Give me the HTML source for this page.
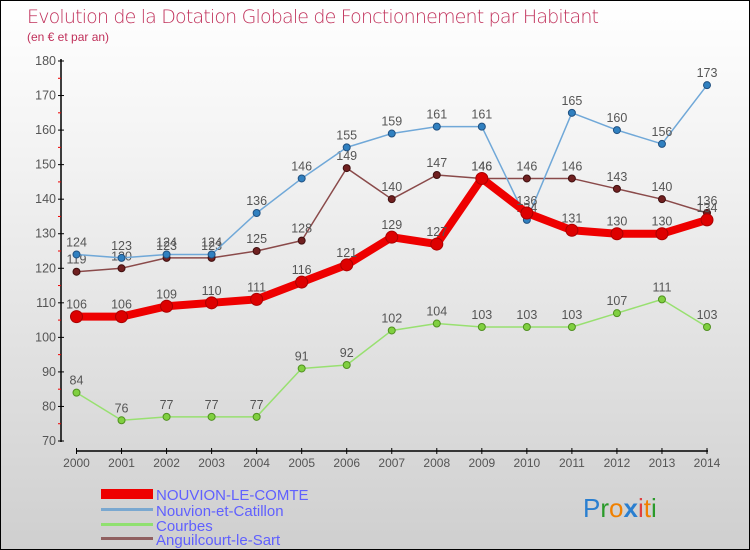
<!DOCTYPE html>
<html><head><meta charset="utf-8"><style>
body{margin:0}
#c{width:750px;height:550px;position:relative;box-sizing:border-box;border:1px solid #000;background:linear-gradient(#fff,#f2f2f2 30%,#cfcfcf);font-family:"Liberation Sans","DejaVu Sans",sans-serif;overflow:hidden}
</style></head><body>
<div id="c">
<svg id="s" width="750" height="550" style="position:absolute;left:0;top:0">
<text x="26" y="22" font-size="19" fill="#c0305a" font-family="DejaVu Sans" style="font-weight:200" textLength="572">Evolution de la Dotation Globale de Fonctionnement par Habitant</text>
<text x="26" y="40" font-size="12" fill="#c0305a">(en € et par an)</text>
<g id="axes"></g><g id="series"></g>
<g>
<rect x="100" y="488" width="52" height="10" fill="#e00"/>
<text x="155" y="499" font-size="15" fill="#6060ff">NOUVION-LE-COMTE</text>
<rect x="100" y="507" width="52" height="3" fill="#7aa8d0"/>
<text x="155" y="515" font-size="15" fill="#6060ff">Nouvion-et-Catillon</text>
<rect x="100" y="522" width="52" height="3" fill="#90e070"/>
<text x="155" y="530" font-size="15" fill="#6060ff">Courbes</text>
<rect x="100" y="536" width="52" height="3" fill="#906060"/>
<text x="155" y="544" font-size="15" fill="#6060ff">Anguilcourt-le-Sart</text>
</g>
<text x="582" y="516" font-size="26"><tspan fill="#2a7fd0">P</tspan><tspan fill="#2a9a2a">r</tspan><tspan fill="#f08000">o</tspan><tspan fill="#2a7fd0" font-weight="bold">x</tspan><tspan fill="#e04040">i</tspan><tspan fill="#f08000">t</tspan><tspan fill="#2a9a2a">i</tspan></text>
</svg></div>
<script>
const years=["2000","2001","2002","2003","2004","2005","2006","2007","2008","2009","2010","2011","2012","2013","2014"];
const yTicks=[70,80,90,100,110,120,130,140,150,160,170,180];
const nouvionLeComte=[106,106,109,110,111,116,121,129,127,146,136,131,130,130,134];
const nouvionEtCatillon=[124,123,124,124,136,146,155,159,161,161,134,165,160,156,173];
const courbes=[84,76,77,77,77,91,92,102,104,103,103,103,107,111,103];
const anguilcourt=[119,120,123,123,125,128,149,140,147,146,146,146,143,140,136];
const NS="http://www.w3.org/2000/svg";
const X=i=>75.5+i*(706-75.5)/(years.length-1);
const Y=v=>440-(v-70)*(380/110);
function mk(t,a,p){const e=document.createElementNS(NS,t);for(const k in a)e.setAttribute(k,a[k]);p.appendChild(e);return e;}
const ax=document.getElementById('axes');
const yl=mk('line',{x1:60,y1:58,x2:60,y2:441,stroke:'#000','stroke-width':1.5},ax);


yTicks.forEach(v=>{mk('line',{x1:57,x2:63,y1:Y(v),y2:Y(v),stroke:'#000'},ax);
if(v<180)mk('line',{x1:57,x2:60,y1:Y(v+5),y2:Y(v+5),stroke:'#e00'},ax);
const t=mk('text',{x:55,y:Y(v)+4,'font-size':12.5,'text-anchor':'end',fill:'#555'},ax);t.textContent=v;

});
const xl=mk('line',{x1:75,y1:450,x2:707,y2:450,stroke:'#000','stroke-width':1.5},ax);


years.forEach((y,i)=>{mk('line',{x1:X(i),x2:X(i),y1:447,y2:453,stroke:'#000'},ax);
const t=mk('text',{x:X(i),y:466,'font-size':12,'text-anchor':'middle',fill:'#555'},ax);t.textContent=y;

});
const sg=document.getElementById('series');
function series(d,name,col,w,dot,dotc,r){
const g=mk('g',{},sg);


mk('polyline',{points:d.map((v,i)=>X(i)+','+Y(v)).join(' '),fill:'none',stroke:col,'stroke-width':w,'stroke-linejoin':'round'},g);
d.forEach((v,i)=>{const c=mk('circle',{cx:X(i),cy:Y(v),r:r,fill:dot,stroke:dotc},g);


const t=mk('text',{x:X(i),y:Y(v)-8,'font-size':12.5,'text-anchor':'middle',fill:'#555'},g);t.textContent=v;

});}
series(courbes,'courbes','#98e070',1.5,'#80d040','#509020',3.5);
series(anguilcourt,'anguilcourt-le-sart','#8a4a4a',1.5,'#702020','#401010',3.5);
series(nouvionEtCatillon,'nouvion-et-catillon','#70a8d8',1.5,'#3080c0','#205080',3.5);
series(nouvionLeComte,'nouvion-le-comte','#ee0000',8,'#dd0000','#aa0000',6);
</script>
</body></html>
